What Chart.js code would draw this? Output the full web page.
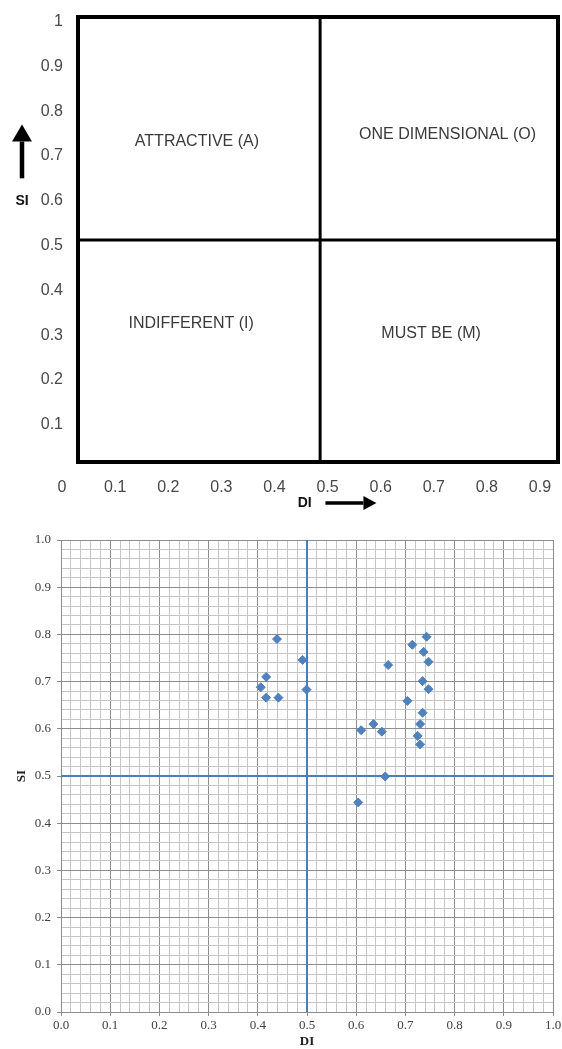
<!DOCTYPE html>
<html>
<head>
<meta charset="utf-8">
<script src="https://cdn.jsdelivr.net/npm/chart.js@4/dist/chart.umd.min.js"></script>
<style>
    body { margin: 0; background: #ffffff; }
    canvas { display: block; }
</style>
</head>
<body>
<canvas id="kanoModel" width="562" height="520"></canvas>
<canvas id="kanoScatter" width="562" height="529"></canvas>
<script>
// Kano model diagram (top)
const modelTicksDI = [0, 0.1, 0.2, 0.3, 0.4, 0.5, 0.6, 0.7, 0.8, 0.9];
const modelTicksSI = [0.1, 0.2, 0.3, 0.4, 0.5, 0.6, 0.7, 0.8, 0.9, 1];
const modelRangeDI = [0.03, 0.934];
const modelRangeSI = [0.017, 1.01];
const modelSplitDI = 0.486;
const modelSplitSI = 0.5125;
const quadrantNames = ['ATTRACTIVE (A)', 'ONE DIMENSIONAL (O)', 'INDIFFERENT (I)', 'MUST BE (M)'];
const quadrantDI = [0.254, 0.726, 0.243, 0.695];
const quadrantSI = [0.733, 0.747, 0.326, 0.303];

// Attribute scatter (bottom)
const attrDI = [0.439, 0.491, 0.417, 0.406, 0.417, 0.442, 0.499, 0.665, 0.610, 0.635, 0.652, 0.659,
    0.704, 0.714, 0.743, 0.737, 0.747, 0.735, 0.747, 0.735, 0.730, 0.725, 0.730, 0.604];
const attrSI = [0.790, 0.746, 0.710, 0.688, 0.666, 0.666, 0.683, 0.735, 0.597, 0.610, 0.594, 0.499,
    0.659, 0.778, 0.795, 0.763, 0.742, 0.701, 0.684, 0.634, 0.610, 0.585, 0.567, 0.444];
const thresholdDI = 0.5;
const thresholdSI = 0.5;
const scatterTickLabels = ['0.0', '0.1', '0.2', '0.3', '0.4', '0.5', '0.6', '0.7', '0.8', '0.9', '1.0'];

const sansFont = '"Liberation Sans", Arial, sans-serif';
const serifFont = '"Liberation Serif", "Times New Roman", serif';

// keep chart area exactly where the axes say
const fixSize = (prop, size) => scale => {
    scale[prop] = size;
    scale.paddingTop = 0;
    scale.paddingBottom = 0;
    scale.paddingLeft = 0;
    scale.paddingRight = 0;
};

const drawArrow = (ctx, x1, y1, x2, y2, shaft, headLen, headHalf) => {
    const ang = Math.atan2(y2 - y1, x2 - x1);
    const bx = x2 - Math.cos(ang) * headLen;
    const by = y2 - Math.sin(ang) * headLen;
    ctx.strokeStyle = '#000';
    ctx.fillStyle = '#000';
    ctx.lineWidth = shaft;
    ctx.beginPath();
    ctx.moveTo(x1, y1);
    ctx.lineTo(bx, by);
    ctx.stroke();
    ctx.beginPath();
    ctx.moveTo(x2, y2);
    ctx.lineTo(bx - Math.sin(ang) * headHalf, by + Math.cos(ang) * headHalf);
    ctx.lineTo(bx + Math.sin(ang) * headHalf, by - Math.cos(ang) * headHalf);
    ctx.closePath();
    ctx.fill();
};

// Quadrant names and axis arrows
const kanoLabels = {
    id: 'kanoLabels',
    afterDatasetsDraw(chart) {
        const { ctx, scales: { x, y } } = chart;
        ctx.save();
        ctx.textAlign = 'center';
        ctx.textBaseline = 'middle';
        ctx.fillStyle = '#3a3a3a';
        ctx.font = '16px ' + sansFont;
        quadrantNames.forEach((name, i) => {
            ctx.fillText(name, x.getPixelForValue(quadrantDI[i]), y.getPixelForValue(quadrantSI[i]));
        });

        ctx.fillStyle = '#111';
        ctx.font = 'bold 14px ' + sansFont;
        const siX = x.left - 56;
        ctx.fillText('SI', siX, y.getPixelForValue(0.6));
        drawArrow(ctx, siX, y.getPixelForValue(0.65), siX, y.getPixelForValue(0.77), 4.5, 17, 10);

        const diY = x.top + 41;
        ctx.fillStyle = '#111';
        ctx.fillText('DI', x.getPixelForValue(0.457), diY);
        drawArrow(ctx, x.getPixelForValue(0.496), diY, x.getPixelForValue(0.592), diY, 3.5, 13, 7);
        ctx.restore();
    }
};

const [dMin, dMax] = modelRangeDI;
const [sMin, sMax] = modelRangeSI;
const lineSet = (data, width) => ({
    data: data,
    showLine: true,
    borderColor: '#000000',
    borderWidth: width,
    borderJoinStyle: 'miter',
    borderCapStyle: 'square',
    pointRadius: 0,
    fill: false,
    clip: false
});

new Chart(document.getElementById('kanoModel').getContext('2d'), {
    type: 'scatter',
    data: {
        datasets: [
            lineSet([{ x: modelSplitDI, y: sMin }, { x: modelSplitDI, y: sMax }], 3),
            lineSet([{ x: dMin, y: modelSplitSI }, { x: dMax, y: modelSplitSI }], 3),
            lineSet([{ x: dMin, y: sMin }, { x: dMin, y: sMax }, { x: dMax, y: sMax },
                { x: dMax, y: sMin }, { x: dMin, y: sMin }], 4)
        ]
    },
    options: {
        responsive: false,
        animation: false,
        layout: { padding: { top: 17, right: 4, left: 0, bottom: 0 } },
        plugins: { legend: { display: false }, tooltip: { enabled: false } },
        scales: {
            x: {
                type: 'linear',
                min: dMin,
                max: dMax,
                afterBuildTicks: scale => { scale.ticks = modelTicksDI.map(v => ({ value: v })); },
                afterFit: fixSize('height', 58),
                grid: { display: false },
                border: { display: false },
                ticks: {
                    autoSkip: false,
                    maxRotation: 0,
                    padding: 8,
                    color: '#484848',
                    font: { family: sansFont, size: 16 },
                    callback: v => v === 0 ? '0' : v.toFixed(1)
                }
            },
            y: {
                type: 'linear',
                min: sMin,
                max: sMax,
                afterBuildTicks: scale => { scale.ticks = modelTicksSI.map(v => ({ value: v })); },
                afterFit: fixSize('width', 78),
                grid: { display: false },
                border: { display: false },
                ticks: {
                    autoSkip: false,
                    padding: 7,
                    color: '#484848',
                    font: { family: sansFont, size: 16 },
                    callback: v => v === 1 ? '1' : v.toFixed(1)
                }
            }
        }
    },
    plugins: [kanoLabels]
});

// Scatter chart
const isMajor = v => Math.abs(v * 10 - Math.round(v * 10)) < 1e-6;
const majorGrid = '#8c8c8c';
const minorGrid = '#c6c6c6';
const blue = '#4f81bd';

new Chart(document.getElementById('kanoScatter').getContext('2d'), {
    type: 'scatter',
    data: {
        datasets: [
            {
                data: attrDI.map((d, i) => ({ x: d, y: attrSI[i] })),
                pointStyle: 'rectRot',
                pointRadius: 4.5,
                backgroundColor: blue,
                borderColor: blue,
                borderWidth: 1,
                order: 0
            },
            {
                data: [{ x: thresholdDI, y: 0 }, { x: thresholdDI, y: 1 }],
                showLine: true,
                borderColor: '#4a7ebb',
                borderWidth: 2,
                pointRadius: 0,
                order: 1
            },
            {
                data: [{ x: 0, y: thresholdSI }, { x: 1, y: thresholdSI }],
                showLine: true,
                borderColor: '#4a7ebb',
                borderWidth: 2,
                pointRadius: 0,
                order: 1
            }
        ]
    },
    options: {
        responsive: false,
        animation: false,
        layout: { padding: { top: 20, right: 9, left: 0, bottom: 0 } },
        plugins: { legend: { display: false }, tooltip: { enabled: false } },
        scales: {
            x: {
                type: 'linear',
                min: 0,
                max: 1,
                afterFit: fixSize('height', 37),
                grid: {
                    color: ctx => isMajor(ctx.tick.value) ? majorGrid : minorGrid,
                    tickColor: ctx => isMajor(ctx.tick.value) ? majorGrid : 'rgba(0,0,0,0)',
                    tickLength: 4
                },
                border: { color: majorGrid },
                ticks: {
                    stepSize: 0.02,
                    autoSkip: false,
                    maxRotation: 0,
                    padding: 2,
                    color: '#404040',
                    font: { family: serifFont, size: 13 },
                    callback: v => isMajor(v) ? scatterTickLabels[Math.round(v * 10)] : ''
                },
                title: {
                    display: true,
                    text: 'DI',
                    color: '#222',
                    padding: 0,
                    font: { family: serifFont, size: 13, weight: 'bold' }
                }
            },
            y: {
                type: 'linear',
                min: 0,
                max: 1,
                afterFit: fixSize('width', 61),
                grid: {
                    color: ctx => isMajor(ctx.tick.value) ? majorGrid : minorGrid,
                    tickColor: ctx => isMajor(ctx.tick.value) ? majorGrid : 'rgba(0,0,0,0)',
                    tickLength: 4
                },
                border: { color: majorGrid },
                ticks: {
                    stepSize: 0.02,
                    autoSkip: false,
                    padding: 6,
                    color: '#404040',
                    font: { family: serifFont, size: 13 },
                    callback: v => isMajor(v) ? scatterTickLabels[Math.round(v * 10)] : ''
                },
                title: {
                    display: true,
                    text: 'SI',
                    color: '#222',
                    padding: { top: 14, bottom: 0 },
                    font: { family: serifFont, size: 13, weight: 'bold' }
                }
            }
        }
    }
});
</script>
</body>
</html>
